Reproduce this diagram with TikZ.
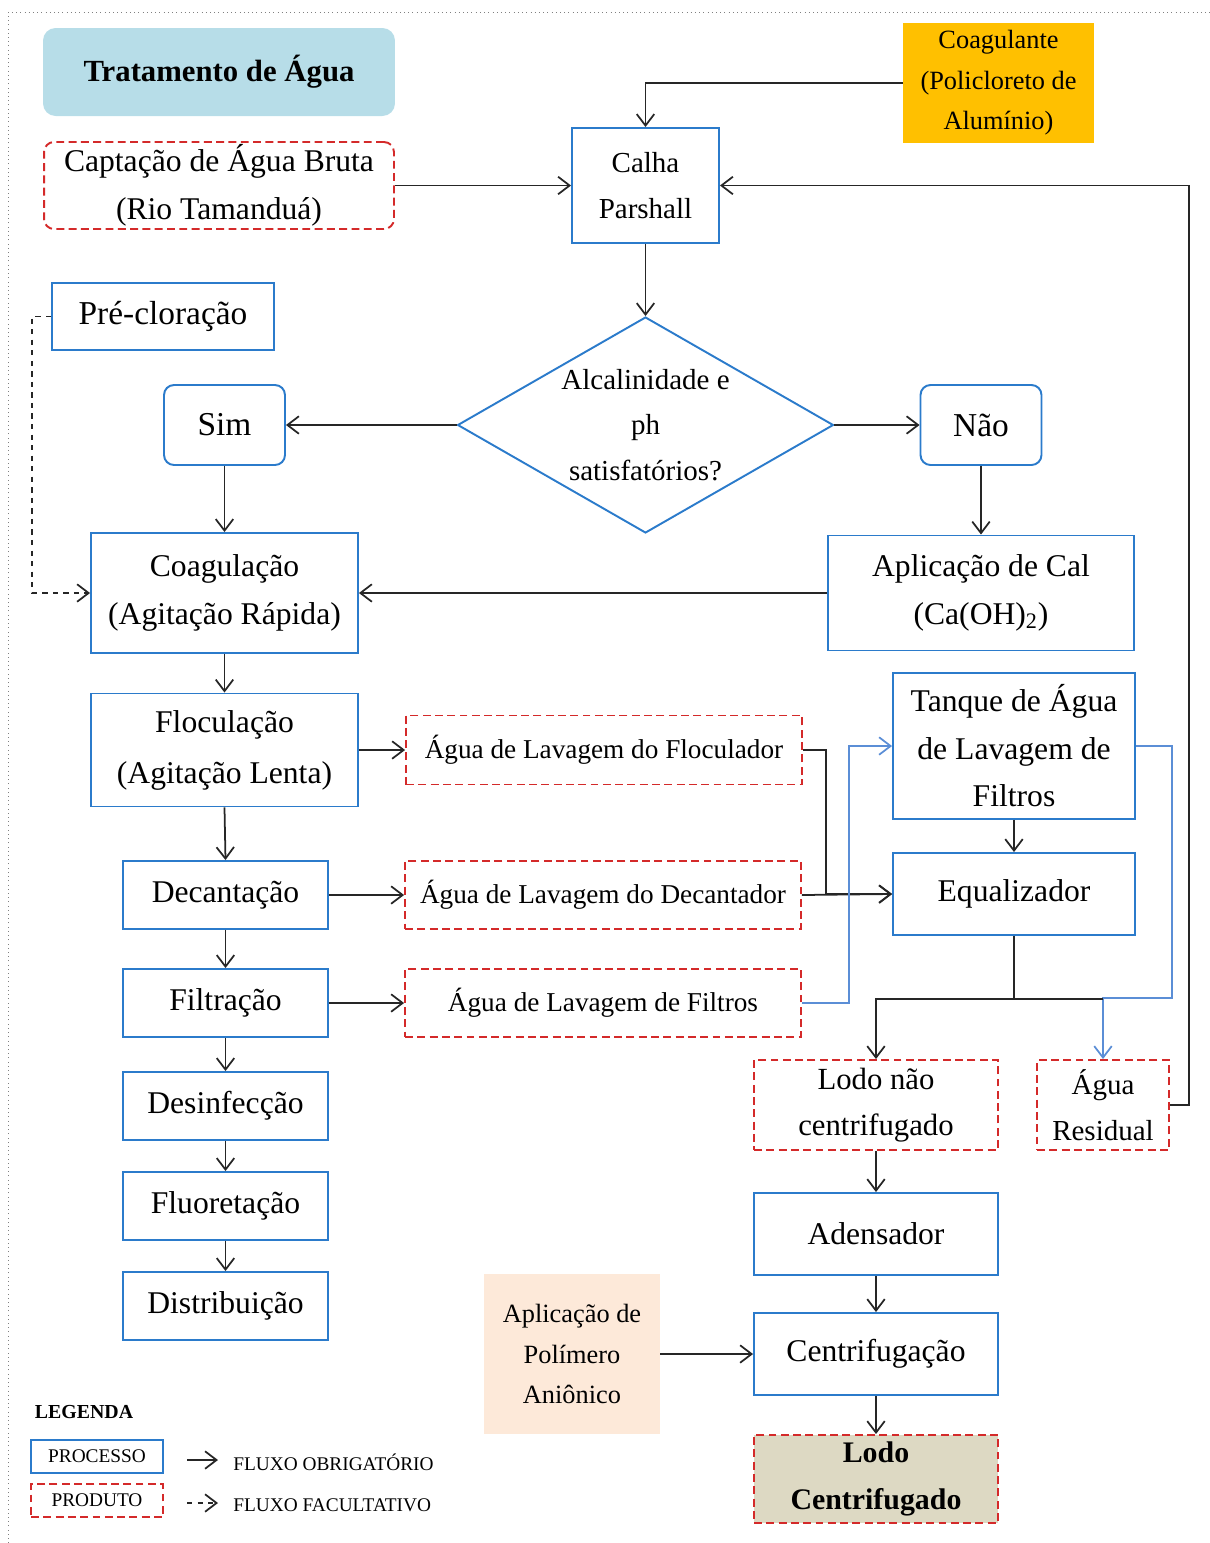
\documentclass[tikz,border=0pt]{standalone}
\usepackage{fontspec}
\setmainfont{Liberation Serif}
\usetikzlibrary{shapes.geometric,arrows.meta}
\definecolor{procblue}{HTML}{2B7BCB}
\definecolor{flowblue}{HTML}{5B8ED6}
\definecolor{prodred}{HTML}{D42A2A}
\definecolor{titlebg}{HTML}{B7DDE8}
\definecolor{coagbg}{HTML}{FFC000}
\definecolor{polbg}{HTML}{FDE9D9}
\definecolor{lodobg}{HTML}{DDD9C3}

\begin{document}
\begin{tikzpicture}[x=0.02cm,y=-0.02cm,
	>={Straight Barb[length=2.3mm,width=3.5mm]},
	flow/.style={->,draw=black!85,line width=1pt},
	flowb/.style={->,draw=flowblue,line width=1pt},
	proc/.style={draw=procblue,line width=1.1pt,align=center,inner sep=0pt,font=\fontsize{18}{27}\selectfont},
	prod/.style={draw=prodred,line width=1.1pt,dash pattern=on 4.5pt off 2.5pt,align=center,inner sep=0pt,font=\fontsize{18}{27}\selectfont},
	fillbox/.style={align=center,inner sep=0pt,font=\fontsize{15}{23}\selectfont},
	legtext/.style={font=\fontsize{11}{13}\selectfont,inner sep=0pt}]
	\useasboundingbox (0,0) rectangle (1210,1543);
	\draw[gray,dotted] (8,1543) -- (8,12) -- (1210,12);

	\node[fillbox,fill=titlebg,rounded corners=0.25cm,minimum width=7.04cm,minimum height=1.76cm,font=\fontsize{17.5}{20}\selectfont\bfseries] (titulo) at (219,72) {Tratamento de Água};
	\node[prod,rounded corners=0.2cm,minimum width=7cm,minimum height=1.74cm] (capt) at (219,185.5) {Captação de Água Bruta\\(Rio Tamanduá)};
	\node[fillbox,fill=coagbg,minimum width=3.82cm,minimum height=2.4cm] (coagt) at (998.5,83) {Coagulante\\(Policloreto de\\Alumínio)};
	\node[proc,minimum width=2.94cm,minimum height=2.3cm,font=\fontsize{16.5}{26}\selectfont] (calha) at (645.5,185.5) {Calha\\Parshall};
	\node[diamond,draw=procblue,line width=1.1pt,inner sep=0pt,minimum width=7.52cm,minimum height=4.32cm] (ph) at (645.5,425) {};
	\node[align=center,font=\fontsize{16.5}{26}\selectfont] (phtxt) at (ph) {Alcalinidade e\\ph\\satisfatórios?};
	\node[proc,minimum width=4.44cm,minimum height=1.34cm,font=\fontsize{19}{27}\selectfont] (prec) at (163,316.5) {Pré-cloração};
	\node[proc,rounded corners=0.2cm,minimum width=2.42cm,minimum height=1.6cm,font=\fontsize{19}{27}\selectfont] (sim) at (224.5,425) {Sim};
	\node[proc,rounded corners=0.2cm,minimum width=2.42cm,minimum height=1.6cm,font=\fontsize{19}{27}\selectfont] (nao) at (981,425) {Não};
	\node[proc,minimum width=5.34cm,minimum height=2.4cm] (coagu) at (224.5,593) {Coagulação\\(Agitação Rápida)};
	\node[proc,minimum width=6.12cm,minimum height=2.3cm] (cal) at (981,593) {Aplicação de Cal\\(Ca(OH)\textsubscript{2})};
	\node[proc,minimum width=5.34cm,minimum height=2.26cm,font=\fontsize{18}{29}\selectfont] (floc) at (224.5,750) {Floculação\\(Agitação Lenta)};
	\node[prod,minimum width=7.92cm,minimum height=1.38cm,font=\fontsize{15.5}{20}\selectfont] (lavfloc) at (604,750) {Água de Lavagem do Floculador};
	\node[proc,minimum width=4.1cm,minimum height=1.36cm] (dec) at (225.5,895) {Decantação};
	\node[prod,minimum width=7.92cm,minimum height=1.36cm,font=\fontsize{15.5}{20}\selectfont] (lavdec) at (603,895) {Água de Lavagem do Decantador};
	\node[proc,minimum width=4.1cm,minimum height=1.36cm] (filt) at (225.5,1003) {Filtração};
	\node[prod,minimum width=7.92cm,minimum height=1.36cm,font=\fontsize{15.5}{20}\selectfont] (lavfilt) at (603,1003) {Água de Lavagem de Filtros};
	\node[proc,minimum width=4.1cm,minimum height=1.36cm] (desinf) at (225.5,1106) {Desinfecção};
	\node[proc,minimum width=4.1cm,minimum height=1.36cm] (fluor) at (225.5,1206) {Fluoretação};
	\node[proc,minimum width=4.1cm,minimum height=1.36cm] (distr) at (225.5,1306) {Distribuição};
	\node[proc,minimum width=4.84cm,minimum height=2.92cm] (tanq) at (1014,746) {Tanque de Água\\de Lavagem de\\Filtros};
	\node[proc,minimum width=4.84cm,minimum height=1.64cm] (equ) at (1014,894) {Equalizador};
	\node[prod,minimum width=4.88cm,minimum height=1.8cm,font=\fontsize{17.5}{26}\selectfont] (lodo) at (876,1105) {Lodo não\\centrifugado};
	\node[prod,minimum width=2.64cm,minimum height=1.8cm,font=\fontsize{16.5}{26}\selectfont] (resid) at (1103,1105) {Água\\Residual};
	\node[proc,minimum width=4.88cm,minimum height=1.64cm] (aden) at (876,1234) {Adensador};
	\node[proc,minimum width=4.88cm,minimum height=1.64cm] (centr) at (876,1354) {Centrifugação};
	\node[fillbox,fill=polbg,minimum width=3.52cm,minimum height=3.2cm] (polim) at (572,1354) {Aplicação de\\Polímero\\Aniônico};
	\node[prod,fill=lodobg,minimum width=4.88cm,minimum height=1.76cm,font=\fontsize{17}{27}\selectfont\bfseries] (lcent) at (876,1479) {Lodo\\Centrifugado};

	\draw[flow] (coagt.west) -| (calha.north);
	\draw[flow] (capt.east) -- (calha.west);
	\draw[flow] (resid.east) -- ++(19,0) |- (calha.east);
	\draw[flow] (calha.south) -- (ph.north);
	\draw[flow] (ph.west) -- (sim.east);
	\draw[flow] (ph.east) -- (nao.west);
	\draw[flow] (sim.south) -- (coagu.north);
	\draw[flow] (nao.south) -- (cal.north);
	\draw[flow] (cal.west) -- (coagu.east);
	\draw[flow,dashed] (prec.west) -- ++(-19,0) |- (coagu.west);
	\draw[flow] (coagu.south) -- (floc.north);
	\draw[flow] (floc.south) -- (dec.north);
	\draw[flow] (dec.south) -- (filt.north);
	\draw[flow] (filt.south) -- (desinf.north);
	\draw[flow] (desinf.south) -- (fluor.north);
	\draw[flow] (fluor.south) -- (distr.north);
	\draw[flow] (floc.east) -- (lavfloc.west);
	\draw[flow] (dec.east) -- (lavdec.west);
	\draw[flow] (filt.east) -- (lavfilt.west);
	\draw[flow] (lavfloc.east) -- ++(23,0) |- (equ.west);
	\draw[flow] (lavdec.east) -- (equ.west);
	\draw[flowb] (lavfilt.east) -- ++(47,0) |- (tanq.west);
	\draw[flow] (tanq.south) -- (equ.north);
	\draw[flowb] (tanq.east) -- ++(36,0) |- (resid.north |- 0,998) -- (resid.north);
	\draw[flow] (equ.south) -- ++(0,63) coordinate (eqj) -| (lodo.north);
	\draw[draw=black!85,line width=1pt] (eqj) -- (eqj -| resid.north);
	\draw[flow] (lodo.south) -- (aden.north);
	\draw[flow] (aden.south) -- (centr.north);
	\draw[flow] (polim.east) -- (centr.west);
	\draw[flow] (centr.south) -- (lcent.north);

	\node[legtext,font=\fontsize{11.3}{13}\selectfont\bfseries] (leg) at (84,1412) {LEGENDA};
	\node[proc,legtext,minimum width=2.64cm,minimum height=0.66cm] (lproc) at (97,1456.5) {PROCESSO};
	\node[prod,legtext,minimum width=2.64cm,minimum height=0.66cm] (lprod) at (97,1500.5) {PRODUTO};
	\node[legtext,anchor=west] (lobrig) at (233,1462) {FLUXO OBRIGATÓRIO};
	\node[legtext,anchor=west] (lfacul) at (233,1505) {FLUXO FACULTATIVO};
	\coordinate (la1) at (187,1460);
	\coordinate (la2) at (218,1460);
	\coordinate (lb1) at (187,1503);
	\coordinate (lb2) at (218,1503);
	\draw[flow] (la1) -- (la2);
	\draw[flow,dashed] (lb1) -- (lb2);
\end{tikzpicture}
\end{document}
